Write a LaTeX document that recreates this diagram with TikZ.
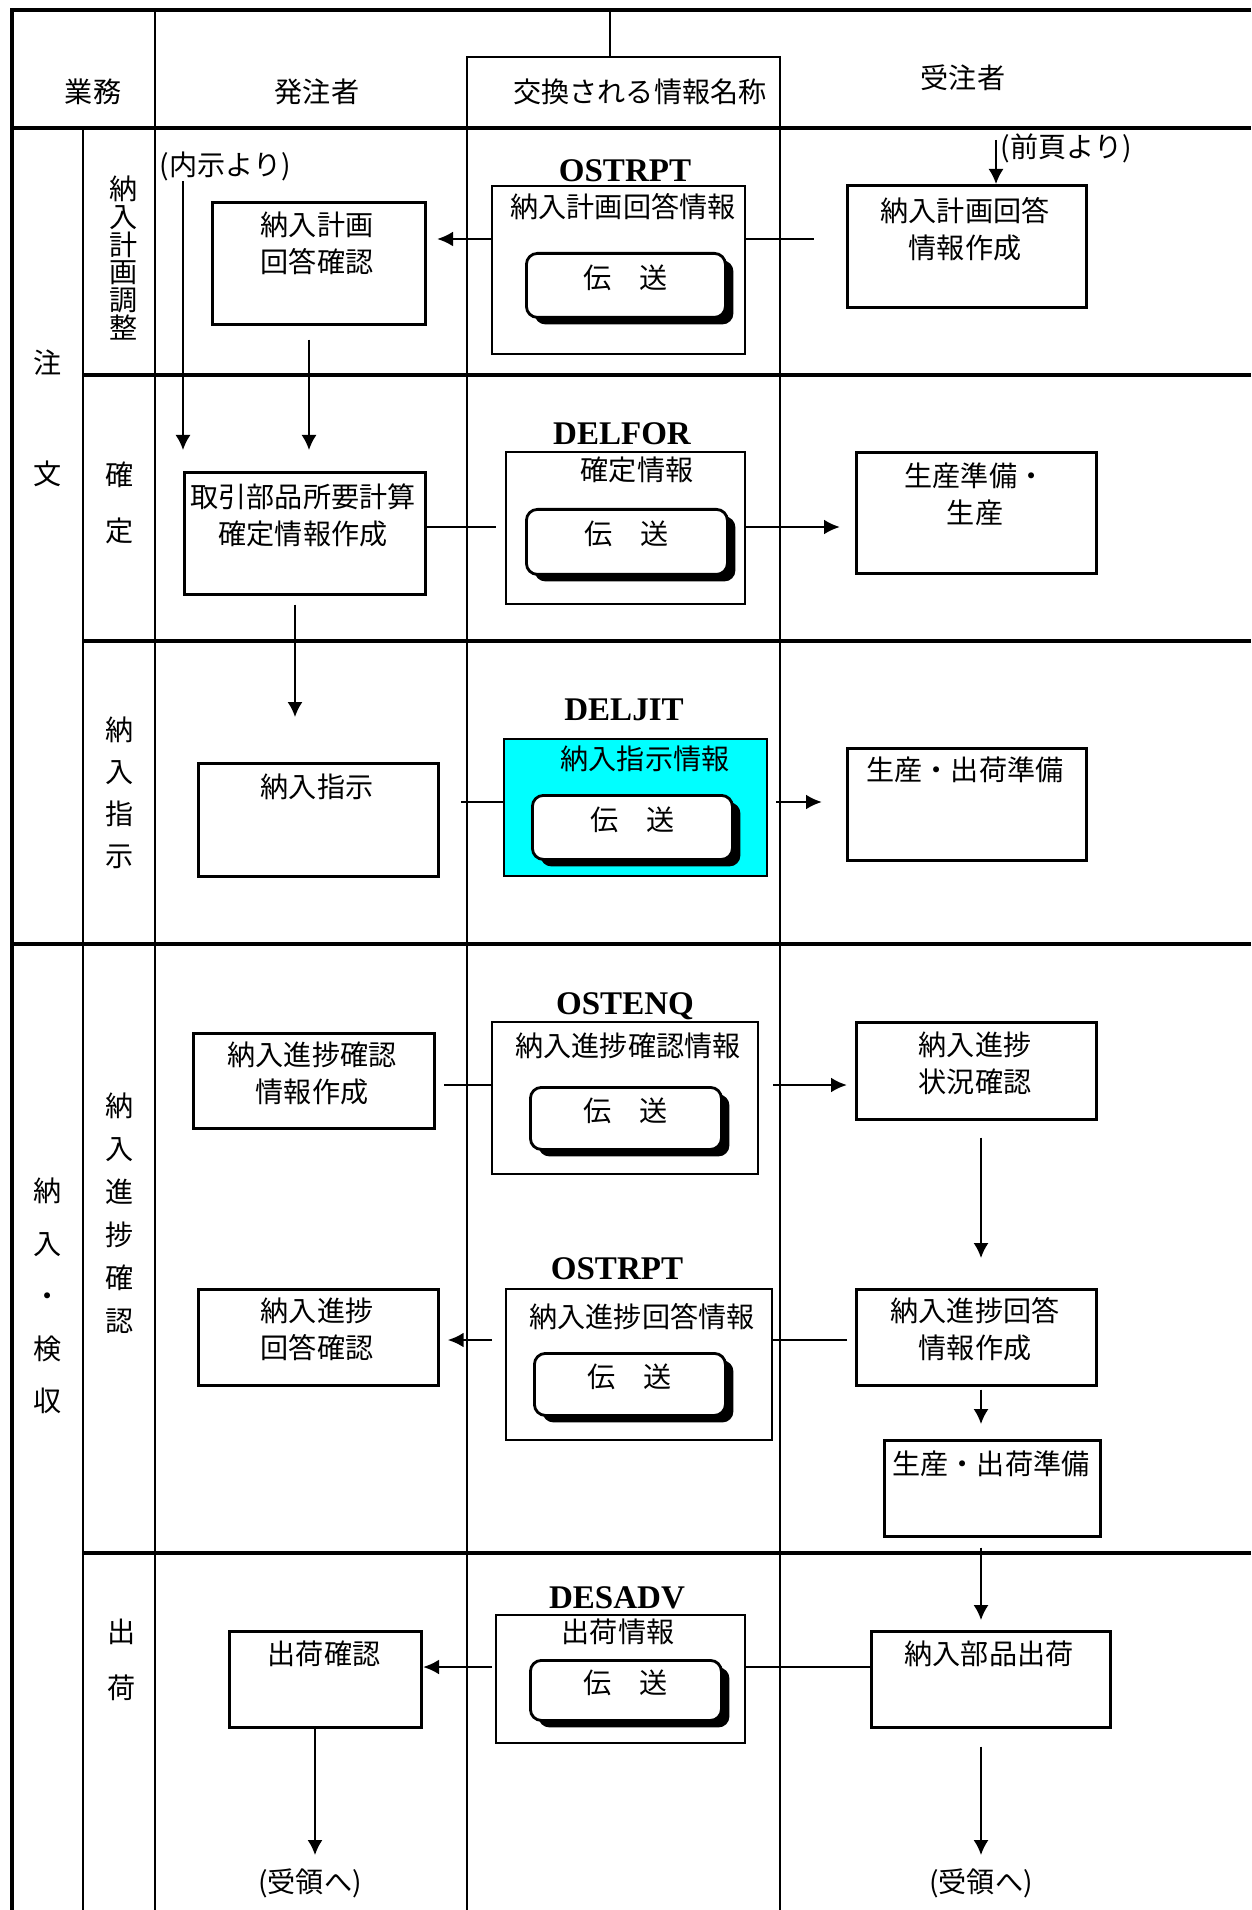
\documentclass[tikz,border=0pt]{standalone}
\usepackage{fontspec}
\setmainfont{Noto Sans CJK JP}
\newfontfamily\edifont{Liberation Serif}
\usetikzlibrary{arrows.meta,shadows}
\definecolor{jitcyan}{RGB}{0,255,255}
\begin{document}
\begin{tikzpicture}[x=0.1mm, y=-0.1mm,
  font=\fontsize{8pt}{10.5pt}\selectfont,
  box/.style={draw, line width=0.75pt, anchor=north west, inner sep=0pt},
  infobox/.style={draw, line width=0.6pt, anchor=north west, inner sep=0pt},
  sendbox/.style={draw, line width=0.8pt, fill=white, rounded corners=1.1mm, anchor=north west, inner sep=0pt,
    text height=2.5mm, text depth=1.9mm,
    drop shadow={shadow xshift=0.8mm, shadow yshift=-0.7mm, fill=black, opacity=1}},
  txt/.style={anchor=north, align=center, inner sep=0pt},
  lane/.style={align=center, inner sep=0pt},
  edi/.style={anchor=base, inner sep=0pt, font=\edifont\bfseries\fontsize{9.4pt}{11pt}\selectfont},
  arr/.style={line width=0.5pt, -{Latex[length=1.5mm,width=1.5mm]}},
  harr/.style={line width=0.8pt, -{Latex[length=1.6mm,width=1.5mm]}},
  hline/.style={line width=0.8pt}]
  \useasboundingbox (0,0) rectangle (1251,1910);
  \draw[line width=1.3pt] (1251,10) -- (12,10) -- (12,1910);
  \draw[line width=0.6pt] (155,10) -- (155,1910);
  \draw[line width=0.6pt] (610,10) -- (610,57);
  \draw[line width=0.6pt] (467,1910) -- (467,57) -- (780,57) -- (780,1910);
  \draw[line width=0.6pt] (83,128) -- (83,1910);
  \draw[line width=0.9pt] (12,128) -- (1251,128);
  \draw[line width=0.9pt] (83,375) -- (1251,375);
  \draw[line width=0.9pt] (83,641) -- (1251,641);
  \draw[line width=0.9pt] (12,944) -- (1251,944);
  \draw[line width=0.9pt] (83,1553) -- (1251,1553);

  \node (hgyomu) at (93,92) {業務};
  \node (hsend) at (317,92) {発注者};
  \node (hinfo) at (640,92) {交換される情報名称};
  \node (hrecv) at (963,78) {受注者};

  \node[lane, font=\fontsize{8pt}{31.6pt}\selectfont] (lchumon) at (48,418) {注\\文};
  \node[lane, font=\fontsize{8pt}{14.9pt}\selectfont] (lnounyu) at (48,1296) {納\\入\\・\\検\\収};
  \node[lane, font=\fontsize{8pt}{7.9pt}\selectfont] (lkeikaku) at (124,258) {納\\入\\計\\画\\調\\整};
  \node[lane, font=\fontsize{8pt}{15.9pt}\selectfont] (lkakutei) at (120,503) {確\\定};
  \node[lane, font=\fontsize{8pt}{12pt}\selectfont] (lshiji) at (120,793) {納\\入\\指\\示};
  \node[lane, font=\fontsize{8pt}{12.2pt}\selectfont] (lshinchoku) at (120,1213) {納\\入\\進\\捗\\確\\認};
  \node[lane, font=\fontsize{8pt}{15.9pt}\selectfont] (lshukka) at (122,1660) {出\\荷};

  % sender side
  \node[box, minimum width=21.3mm, minimum height=12.2mm] (s1) at (211,201) {};
  \node[txt] (s1t) at (317,211) {納入計画\\回答確認};
  \node[box, minimum width=24.1mm, minimum height=12.2mm] (s2) at (183,471) {};
  \node[txt] (s2t) at (303,483) {取引部品所要計算\\確定情報作成};
  \node[box, minimum width=24mm, minimum height=11.3mm] (s3) at (197,762) {};
  \node[txt] (s3t) at (317,773) {納入指示};
  \node[box, minimum width=24.1mm, minimum height=9.5mm] (s4) at (192,1032) {};
  \node[txt] (s4t) at (312,1041) {納入進捗確認\\情報作成};
  \node[box, minimum width=24mm, minimum height=9.6mm] (s5) at (197,1288) {};
  \node[txt] (s5t) at (317,1297) {納入進捗\\回答確認};
  \node[box, minimum width=19.2mm, minimum height=9.6mm] (s6) at (228,1630) {};
  \node[txt] (s6t) at (324,1640) {出荷確認};

  % exchanged messages
  \node[edi] (e1) at (625,182) {OSTRPT};
  \node[infobox, minimum width=25.3mm, minimum height=16.8mm] (i1) at (491,185) {};
  \node[txt] (i1t) at (623,193) {納入計画回答情報};
  \node[sendbox, minimum width=19.9mm, minimum height=6.4mm] (d1) at (525,252) {伝　送};

  \node[edi] (e2) at (622,445) {DELFOR};
  \node[infobox, minimum width=23.9mm, minimum height=15.2mm] (i2) at (505,451) {};
  \node[txt] (i2t) at (637,456) {確定情報};
  \node[sendbox, minimum width=20.1mm, minimum height=6.5mm] (d2) at (525,508) {伝　送};

  \node[edi] (e3) at (624,720) {DELJIT};
  \node[infobox, fill=jitcyan, minimum width=26.3mm, minimum height=13.7mm] (i3) at (503,738) {};
  \node[txt] (i3t) at (645,745) {納入指示情報};
  \node[sendbox, minimum width=20mm, minimum height=6.4mm] (d3) at (531,794) {伝　送};

  \node[edi] (e4) at (625,1014) {OSTENQ};
  \node[infobox, minimum width=26.6mm, minimum height=15.2mm] (i4) at (491,1021) {};
  \node[txt] (i4t) at (628,1032) {納入進捗確認情報};
  \node[sendbox, minimum width=19.1mm, minimum height=6.2mm] (d4) at (529,1086) {伝　送};

  \node[edi] (e5) at (617,1279) {OSTRPT};
  \node[infobox, minimum width=26.6mm, minimum height=15.1mm] (i5) at (505,1288) {};
  \node[txt] (i5t) at (642,1303) {納入進捗回答情報};
  \node[sendbox, minimum width=19.1mm, minimum height=6.2mm] (d5) at (533,1352) {伝　送};

  \node[edi] (e6) at (617,1608) {DESADV};
  \node[infobox, minimum width=24.9mm, minimum height=12.8mm] (i6) at (495,1614) {};
  \node[txt] (i6t) at (618,1618) {出荷情報};
  \node[sendbox, minimum width=19.1mm, minimum height=6mm] (d6) at (529,1659) {伝　送};

  % receiver side
  \node[box, minimum width=23.9mm, minimum height=12.2mm] (r1) at (846,184) {};
  \node[txt] (r1t) at (965,197) {納入計画回答\\情報作成};
  \node[box, minimum width=24mm, minimum height=12.1mm] (r2) at (855,451) {};
  \node[txt] (r2t) at (975,462) {生産準備・\\生産};
  \node[box, minimum width=23.9mm, minimum height=11.2mm] (r3) at (846,747) {};
  \node[txt] (r3t) at (965,756) {生産・出荷準備};
  \node[box, minimum width=24mm, minimum height=9.7mm] (r4) at (855,1021) {};
  \node[txt] (r4t) at (975,1031) {納入進捗\\状況確認};
  \node[box, minimum width=24mm, minimum height=9.6mm] (r5) at (855,1288) {};
  \node[txt] (r5t) at (975,1297) {納入進捗回答\\情報作成};
  \node[box, minimum width=21.6mm, minimum height=9.6mm] (r6) at (883,1439) {};
  \node[txt] (r6t) at (991,1450) {生産・出荷準備};
  \node[box, minimum width=23.9mm, minimum height=9.6mm] (r7) at (870,1630) {};
  \node[txt] (r7t) at (989,1640) {納入部品出荷};

  \node[anchor=west, inner sep=0pt] (naiji) at (159,166) {(内示より)};
  \node[anchor=west, inner sep=0pt] (zenpage) at (1000,148) {(前頁より)};
  \node (juryo1) at (310,1883) {(受領へ)};
  \node (juryo2) at (981,1883) {(受領へ)};

  \coordinate (c1) at (183,450);
  \coordinate (c2) at (309,450);
  \coordinate (c3) at (437,239);
  \coordinate (c4) at (814,239);
  \coordinate (c5) at (996,140);
  \coordinate (c6) at (496,527);
  \coordinate (c7) at (295,717);
  \coordinate (c8) at (461,802);
  \coordinate (c9) at (444,1085);
  \coordinate (c10) at (981,1258);
  \coordinate (c11) at (847,1340);
  \coordinate (c12) at (423,1667);
  \coordinate (c13) at (315,1855);
  \coordinate (c14) at (981,1855);

  \draw[arr] (naiji.south -| c1) -- (c1);
  \draw[arr] ([yshift=-1.4mm]s1.south -| c2) -- (c2);
  \draw[harr] (i1.west |- c3) -- (c3);
  \draw[hline] (i1.east |- c4) -- (c4);
  \draw[arr] (c5) -- (c5 |- r1.north);

  \draw[hline] (s2.east |- c6) -- (c6);
  \draw[harr] (i2.east |- c6) -- ([xshift=-1.5mm]r2.west |- c6);
  \draw[arr] ([yshift=-0.9mm]s2.south -| c7) -- (c7);

  \draw[hline] (c8) -- (c8 -| i3.west);
  \draw[harr] ([xshift=0.8mm]i3.east |- c8) -- ([xshift=-2.4mm]r3.west |- c8);

  \draw[hline] (c9) -- (c9 -| i4.west);
  \draw[harr] ([xshift=1.4mm]i4.east |- c9) -- ([xshift=-0.8mm]r4.west |- c9);
  \draw[arr] ([yshift=-1.7mm]r4.south -| c10) -- (c10);
  \draw[hline] (c11) -- (c11 -| i5.east);
  \draw[harr] ([xshift=-1.3mm]i5.west |- c11) -- ([xshift=0.8mm]s5.east |- c11);
  \draw[arr] ([yshift=-0.3mm]r5.south -| c10) -- ([yshift=1.5mm]r6.north -| c10);
  \draw[arr] ([yshift=-1mm]r6.south -| c10) -- ([yshift=1mm]r7.north -| c10);

  \draw[harr] ([xshift=-0.3mm]i6.west |- c12) -- (c12);
  \draw[hline] (r7.west |- c12) -- (i6.east |- c12);
  \draw[arr] (s6.south -| c13) -- (c13);
  \draw[arr] ([yshift=-1.8mm]r7.south -| c14) -- (c14);
\end{tikzpicture}
\end{document}
